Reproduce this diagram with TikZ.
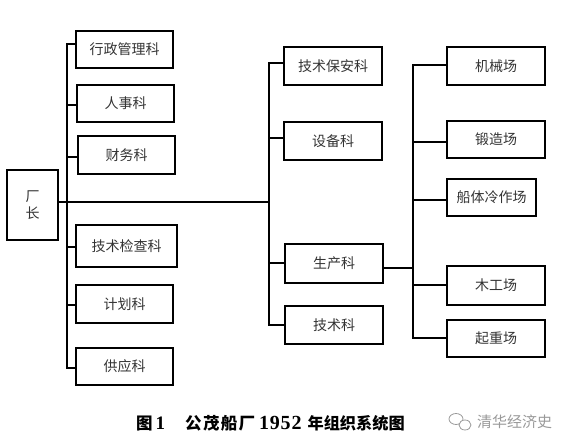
\documentclass[tikz,border=0pt]{standalone}
\usepackage{fontspec}
\setmainfont{Liberation Serif}
\newfontfamily\cjk{Noto Sans CJK SC}
\begin{document}
\begin{tikzpicture}[x=1pt,y=-1pt,
  box/.style={draw=black,line width=1.8pt,rectangle,inner sep=0pt,font=\cjk\fontsize{14}{16}\selectfont,text=black!80},
  conn/.style={line width=1.7pt,line cap=rect}]
\useasboundingbox (0,0) rectangle (573,446);
% boxes
\node[box,minimum width=51pt,minimum height=70pt,align=center] (cz) at (32.5,205) {厂\\[1pt]长};
\node[box,minimum width=97pt,minimum height=37pt] (a1) at (124.5,49.5) {行政管理科};
\node[box,minimum width=97pt,minimum height=37pt] (a2) at (125.5,103.5) {人事科};
\node[box,minimum width=97pt,minimum height=38pt] (a3) at (126.5,155) {财务科};
\node[box,minimum width=101pt,minimum height=42pt] (a4) at (126.5,246) {技术检查科};
\node[box,minimum width=97pt,minimum height=38pt] (a5) at (124.5,304) {计划科};
\node[box,minimum width=97pt,minimum height=37pt] (a6) at (124.5,366.5) {供应科};
\node[box,minimum width=98pt,minimum height=38pt] (b1) at (333,66) {技术保安科};
\node[box,minimum width=98pt,minimum height=38pt] (b2) at (333,141) {设备科};
\node[box,minimum width=98pt,minimum height=39pt] (b3) at (334,263.5) {生产科};
\node[box,minimum width=98pt,minimum height=38pt] (b4) at (334,325) {技术科};
\node[box,minimum width=98pt,minimum height=38pt] (c1) at (496,66) {机械场};
\node[box,minimum width=98pt,minimum height=37pt] (c2) at (496,139.5) {锻造场};
\node[box,minimum width=89pt,minimum height=37pt] (c3) at (491.5,197.5) {船体冷作场};
\node[box,minimum width=98pt,minimum height=39pt] (c4) at (496,285.5) {木工场};
\node[box,minimum width=98pt,minimum height=37pt] (c5) at (496,338.5) {起重场};
% bus coordinates
\coordinate (p1) at (67,44);
\coordinate (p2) at (67,105);
\coordinate (p3) at (67,156.7);
\coordinate (p4) at (67,246.7);
\coordinate (p5) at (67,305);
\coordinate (p6) at (67,368);
\coordinate (m1) at (269,201.7);
\coordinate (q1) at (269,63.3);
\coordinate (q2) at (269,138);
\coordinate (q3) at (269,262.7);
\coordinate (q4) at (269,325);
\coordinate (r0) at (413,267.7);
\coordinate (s1) at (413,65);
\coordinate (s2) at (413,141.7);
\coordinate (s3) at (413,200);
\coordinate (s4) at (413,285);
\coordinate (s5) at (413,338.3);
% left bus
\draw[conn] (p1) -- (p6);
\foreach \p/\b in {p1/a1,p2/a2,p3/a3,p4/a4,p5/a5,p6/a6} \draw[conn] (\p) -- (\p -| \b.west);
% main line
\draw[conn] (cz.east |- m1) -- (m1);
% middle bus
\draw[conn] (q1) -- (q4);
\foreach \p/\b in {q1/b1,q2/b2,q3/b3,q4/b4} \draw[conn] (\p) -- (\p -| \b.west);
% right
\draw[conn] (b3.east |- r0) -- (r0);
\draw[conn] (s1) -- (s5);
\foreach \p/\b in {s1/c1,s2/c2,s3/c3,s4/c4,s5/c5} \draw[conn] (\p) -- (\p -| \b.west);
% caption
\node[anchor=west,inner sep=0pt] (cap) at (136,423) {\bfseries
  {\cjk\fontsize{16.5}{18}\selectfont 图}\hspace{3pt}{\fontsize{19}{20}\selectfont 1}\hspace{20pt}%
  {\cjk\fontsize{16.5}{18}\selectfont\addfontfeature{LetterSpace=8}公茂船厂}\hspace{4pt}%
  {\fontsize{20}{20}\selectfont\addfontfeature{LetterSpace=4}1952}\hspace{6pt}%
  {\cjk\fontsize{16.2}{18}\selectfont 年组织系统图}};
% watermark
\node[anchor=west,inner sep=0pt,text=black!40,font=\cjk\fontsize{15}{17}\selectfont] (wm) at (477,422) {清华经济史};
\draw[black!40,line width=0.8pt] (456,419) ellipse (7pt and 5.5pt);
\draw[black!40,line width=0.8pt,fill=white] (465,425) ellipse (6pt and 5pt);
\end{tikzpicture}
\end{document}
